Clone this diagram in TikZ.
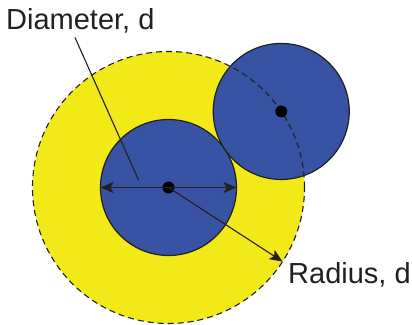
\documentclass[tikz,border=0pt]{standalone}
\usepackage{fontspec}
\setmainfont{Liberation Sans}
\usetikzlibrary{arrows.meta}
\definecolor{sunyellow}{HTML}{F2E918}
\definecolor{discblue}{HTML}{3853A4}
\definecolor{ink}{HTML}{231F20}
\tikzset{
  disc/.style={circle, fill=discblue, draw=ink, line width=1.2pt, minimum size=136pt, inner sep=0pt, outer sep=0pt},
  dot/.style={circle, fill=black, minimum size=12pt, inner sep=0pt},
  lbl/.style={font=\fontsize{29}{29}\selectfont, text=ink, inner sep=0pt},
  leader/.style={draw=ink, line width=1.1pt},
  tip/.style={-{Stealth[length=13pt,width=11pt,inset=3pt]}},
  tips/.style={{Stealth[length=13pt,width=11pt,inset=3pt]}-{Stealth[length=13pt,width=11pt,inset=3pt]}},
  dashedring/.style={draw=ink, line width=1.1pt, dash pattern=on 6pt off 4pt}
}
\begin{document}
\begin{tikzpicture}[x=1pt,y=1pt]
\useasboundingbox (0,0) rectangle (412,324);
% big yellow circle
\node[circle, fill=sunyellow, minimum size=272pt, inner sep=0pt, outer sep=0pt] (big) at (168.5,136.5) {};
% inner blue disc
\node[disc] (inner) at (168.5,136.5) {};
% upper disc on the ring
\node[disc] (upper) at (big.34) {};
% dashed ring on top
\node[circle, dashedring, minimum size=272pt, inner sep=0pt, outer sep=0pt] (ring) at (168.5,136.5) {};
% dots
\node[dot] (c) at (inner.center) {};
\node[dot] (uc) at (upper.center) {};
% diameter arrow
\draw[leader, tips] (inner.west) -- (inner.east);
% radius arrow
\draw[leader, tip] (inner.center) -- (big.-33.8);
% labels
\node[lbl, anchor=base west] (dlab) at (6,294) {Diameter, d};
\node[lbl, anchor=base west] (rlab) at (288,41) {Radius, d};
\coordinate (dstart) at (75,286.5);
\coordinate (dend) at (138.7,143.5);
\draw[leader] (dstart) -- (dend);
\end{tikzpicture}
\end{document}
